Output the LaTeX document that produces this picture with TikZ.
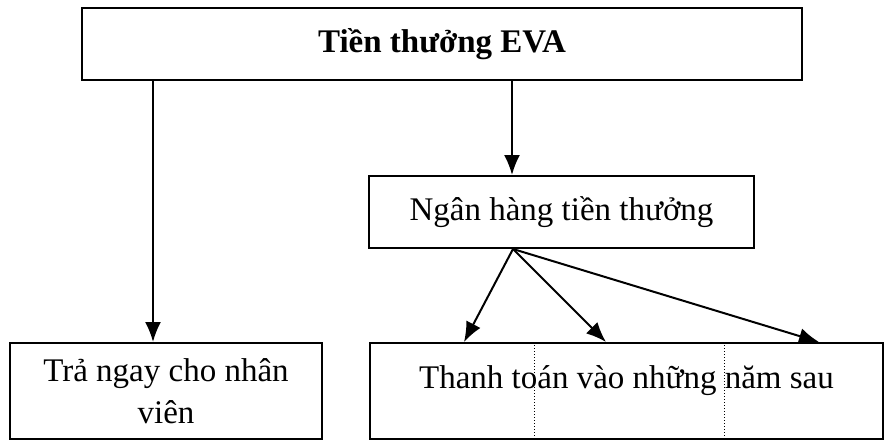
\documentclass[tikz,border=0pt]{standalone}
\usepackage{fontspec}
\setmainfont{Liberation Serif}
\usetikzlibrary{calc}
\usetikzlibrary{arrows.meta}

\begin{document}
\begin{tikzpicture}[x=1pt, y=-1pt, line width=2pt, font=\fontsize{33}{42}\selectfont,
        box/.style={rectangle, draw, inner sep=4pt, align=center},
        arr/.style={-{Latex[length=20pt, width=16pt]}}]
        \useasboundingbox (0,0) rectangle (890,440);
        \node[box, minimum width=720pt, minimum height=72pt] at (442,44) (eva) {\textbf{Tiền thưởng EVA}};
        \node[box, minimum width=385pt, minimum height=72pt] at (561.5,212) (bank) {Ngân hàng tiền thưởng};
        \node[box, minimum width=312pt, minimum height=96pt] at (166,391) (pay) {Trả ngay cho nhân\\viên};
        \node[box, text depth=28pt, minimum width=513pt, minimum height=96pt] at (626.5,391) (later) {Thanh toán vào những năm sau};
        \coordinate (split) at ($(bank.south west)+(145,0)$);
        \draw[dotted, line width=1pt] ($(later.north west)+(165,0)$) -- ($(later.south west)+(165,0)$);
        \draw[dotted, line width=1pt] ($(later.north west)+(355,0)$) -- ($(later.south west)+(355,0)$);
        \draw[arr] ($(eva.south west)+(72,0)$) -- ($(pay.north west)+(144,0)$);
        \draw[arr] ($(eva.south west)+(431,0)$) -- ($(bank.north west)+(144,0)$);
        \draw[arr] (split) -- ($(later.north west)+(95,0)$);
        \draw[arr] (split) -- ($(later.north west)+(237,0)$);
        \draw[arr] (split) -- ($(later.north west)+(450,0)$);
\end{tikzpicture}
\end{document}
